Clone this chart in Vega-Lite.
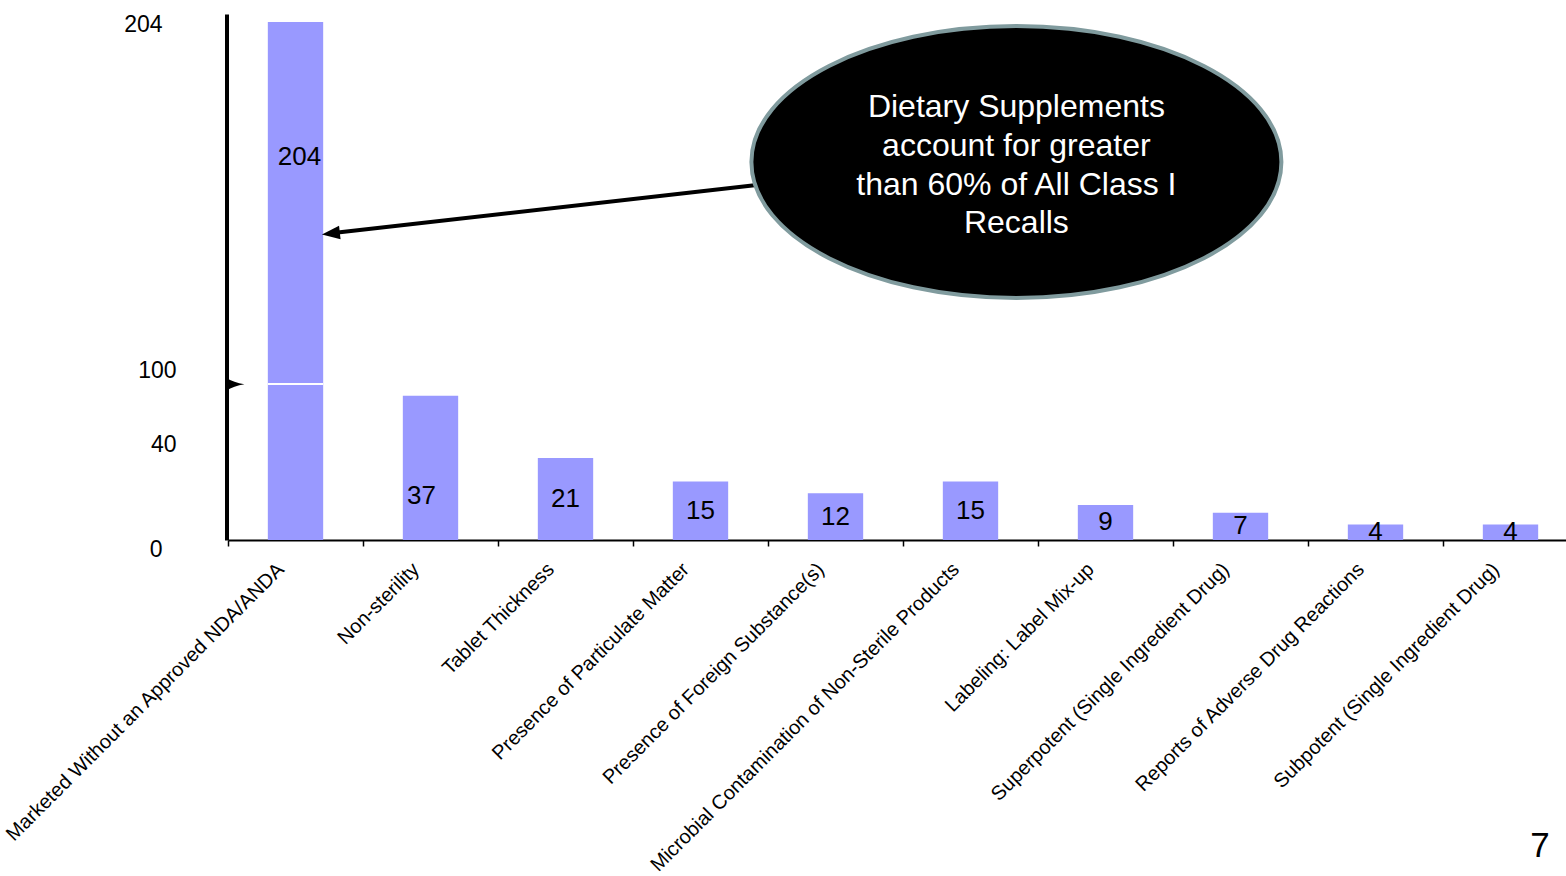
{
  "$schema": "https://vega.github.io/schema/vega-lite/v6.json",
  "width": 1338,
  "height": 526,
  "autosize": {"type": "none"},
  "padding": {"left": 228, "top": 14, "right": 0, "bottom": 336},
  "background": "white",
  "config": {"view": {"stroke": null}, "font": "Liberation Sans"},
  "title": {
    "text": "7",
    "orient": "bottom",
    "anchor": "end",
    "font": "Liberation Sans",
    "fontSize": 35,
    "fontWeight": "normal",
    "color": "black",
    "offset": -46,
    "dx": -29
  },
  "layer": [
    {
      "data": {
        "values": [
          {"reason": "Marketed Without an Approved NDA/ANDA", "recalls": 204},
          {"reason": "Non-sterility", "recalls": 37},
          {"reason": "Tablet Thickness", "recalls": 21},
          {"reason": "Presence of Particulate Matter", "recalls": 15},
          {"reason": "Presence of Foreign Substance(s)", "recalls": 12},
          {"reason": "Microbial Contamination of Non-Sterile Products", "recalls": 15},
          {"reason": "Labeling:  Label Mix-up", "recalls": 9},
          {"reason": "Superpotent (Single Ingredient Drug)", "recalls": 7},
          {"reason": "Reports of Adverse Drug Reactions", "recalls": 4},
          {"reason": "Subpotent (Single Ingredient Drug)", "recalls": 4}
        ]
      },
      "encoding": {
        "x": {
          "field": "reason",
          "type": "nominal",
          "sort": null,
          "scale": {"range": [0, 1350], "paddingInner": 0, "paddingOuter": 0},
          "axis": {
            "orient": "bottom",
            "title": null,
            "labelAngle": -45,
            "labelAlign": "right",
            "labelBaseline": "middle",
            "labelFont": "Liberation Sans",
            "labelFontSize": 20,
            "labelColor": "black",
            "labelOffset": -15,
            "labelPadding": 20,
            "labelLimit": 800,
            "labelOverlap": false,
            "tickBand": "extent",
            "tickSize": 6,
            "tickWidth": 1.5,
            "tickColor": "black",
            "domainColor": "black",
            "domainWidth": 2,
            "grid": false
          }
        }
      },
      "layer": [
        {
          "mark": {"type": "bar", "color": "#9999ff", "width": {"band": 0.41}},
          "encoding": {
            "y": {
              "field": "recalls",
              "type": "quantitative",
              "scale": {"domain": [0, 40, 207.6], "range": [526, 370, 0], "zero": false, "nice": false},
              "axis": {
                "orient": "left",
                "title": null,
                "labels": false,
                "ticks": false,
                "grid": false,
                "domainColor": "black",
                "domainWidth": 4,
                "offset": 1.5
              }
            }
          }
        },
        {
          "transform": [{"filter": "datum.recalls > 40"}],
          "mark": {"type": "tick", "color": "white", "thickness": 2, "size": 55, "opacity": 1},
          "encoding": {"y": {"datum": 40, "type": "quantitative"}}
        },
        {
          "transform": [{"filter": "datum.recalls < 30"}],
          "mark": {"type": "text", "font": "Liberation Sans", "fontSize": 26, "color": "black", "baseline": "middle", "align": "center"},
          "encoding": {
            "y": {"field": "recalls", "type": "quantitative", "stack": "zero", "bandPosition": 0.5},
            "text": {"field": "recalls", "type": "quantitative"}
          }
        },
        {
          "transform": [{"filter": "datum.recalls == 37"}],
          "mark": {"type": "text", "font": "Liberation Sans", "fontSize": 26, "color": "black", "baseline": "middle", "align": "center", "dx": -9},
          "encoding": {
            "y": {"field": "recalls", "type": "quantitative", "stack": "zero", "bandPosition": 0.305},
            "text": {"field": "recalls", "type": "quantitative"}
          }
        },
        {
          "transform": [{"filter": "datum.recalls == 204"}],
          "mark": {"type": "text", "font": "Liberation Sans", "fontSize": 26, "color": "black", "baseline": "middle", "align": "center", "dx": 4},
          "encoding": {
            "y": {"field": "recalls", "type": "quantitative", "stack": "zero", "bandPosition": 0.7},
            "text": {"field": "recalls", "type": "quantitative"}
          }
        }
      ]
    },
    {
      "data": {"values": [{"note": "Dietary Supplements\naccount for greater\nthan 60% of All Class I\nRecalls"}]},
      "layer": [
        {
          "mark": {"type": "rule", "color": "black", "strokeWidth": 4},
          "encoding": {
            "x": {"datum": 3.9, "type": "quantitative", "scale": {"domain": [0, 10], "range": [0, 1350], "zero": false, "nice": false}, "axis": null},
            "x2": {"datum": 0.78},
            "y": {
              "datum": 155.5,
              "type": "quantitative",
              "scale": {"domain": [0, 40, 100, 204], "range": [535, 430, 356, 10], "zero": false, "nice": false},
              "axis": {
                "orient": "left",
                "title": null,
                "values": [0, 40, 100, 204],
                "domain": false,
                "ticks": false,
                "grid": false,
                "labelFlush": false,
                "labelFont": "Liberation Sans",
                "labelFontSize": 23,
                "labelColor": "black",
                "labelPadding": {"condition": {"test": "datum.value == 0 || datum.value == 204", "value": 66}, "value": 52}
              }
            },
            "y2": {"datum": 141.2}
          }
        },
        {
          "mark": {
            "type": "point",
            "shape": "M -1 0 C -1 -0.2833 -0.5523 -0.513 0 -0.513 C 0.5523 -0.513 1 -0.2833 1 0 C 1 0.2833 0.5523 0.513 0 0.513 C -0.5523 0.513 -1 0.2833 -1 0 Z",
            "size": 280900,
            "filled": true,
            "fill": "black",
            "stroke": "#809b9e",
            "strokeWidth": 4,
            "opacity": 1
          },
          "encoding": {
            "x": {"datum": 5.84, "type": "quantitative"},
            "y": {"datum": 162.5, "type": "quantitative"}
          }
        },
        {
          "mark": {
            "type": "text",
            "font": "Liberation Sans",
            "fontSize": 32,
            "color": "white",
            "align": "center",
            "baseline": "middle",
            "lineBreak": "\n",
            "lineHeight": 38.7
          },
          "encoding": {
            "x": {"datum": 5.84, "type": "quantitative"},
            "y": {"datum": 179.0, "type": "quantitative"},
            "text": {"field": "note", "type": "nominal"}
          }
        },
        {
          "mark": {
            "type": "point",
            "shape": "M -1 0 L 1 -0.75 L 1 0.75 Z",
            "size": 324,
            "angle": 353.5,
            "filled": true,
            "color": "black",
            "opacity": 1
          },
          "encoding": {
            "x": {"datum": 0.762, "type": "quantitative"},
            "y": {"datum": 141.0, "type": "quantitative"}
          }
        },
        {
          "mark": {
            "type": "point",
            "shape": "M -1 -0.7 Q -0.2 -0.2 1 0 Q -0.2 0.2 -1 0.7 Z",
            "size": 324,
            "filled": true,
            "color": "black",
            "opacity": 1
          },
          "encoding": {
            "x": {"datum": 0.055, "type": "quantitative"},
            "y": {"datum": 88.4, "type": "quantitative"}
          }
        }
      ]
    }
  ],
  "resolve": {"scale": {"x": "independent", "y": "independent"}}
}
